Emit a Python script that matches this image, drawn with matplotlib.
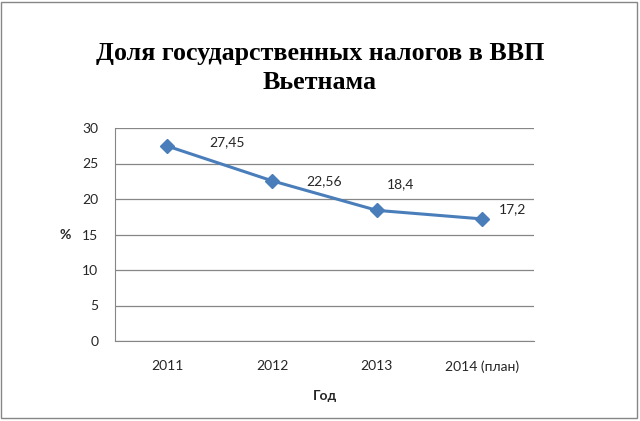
import matplotlib.pyplot as plt
from matplotlib.patches import Rectangle

# data
years = ['2011', '2012', '2013', '2014 (план)']
share = [27.45, 22.56, 18.4, 17.2]
labels = ['27,45', '22,56', '18,4', '17,2']
# label offsets in pixels (placed by hand in the original)
label_offsets = [(42, 4), (34, 0), (10, 26), (17, 10)]

plt.rcParams['font.family'] = ['Lato', 'DejaVu Sans']

fig = plt.figure(figsize=(6.4, 4.21), dpi=100)
ax = fig.add_axes([115 / 640, 1 - 341 / 421, 419 / 640, 213 / 421])

x = range(len(years))
ax.plot(x, share, color='#4A7EBB', lw=2.2, marker='D', ms=7,
        markerfacecolor='#4A7EBB', markeredgecolor='#4A7EBB', zorder=3)
for i, (v, t, off) in enumerate(zip(share, labels, label_offsets)):
    ax.annotate(t, (i, v), xytext=off, textcoords='offset pixels',
                ha='left', va='center', fontsize=10, color='#262626')

ax.set_xlim(-0.5, 3.5)
ax.set_ylim(0, 30)
ax.set_yticks(range(0, 31, 5))
ax.set_xticks(list(x))
ax.set_xticklabels(years)
ax.yaxis.grid(True, color='#868686', lw=0.9)
ax.set_axisbelow(True)
ax.tick_params(length=0, labelsize=10, colors='#262626', pad=12)
ax.tick_params(axis='x', pad=14)
for s in ['top', 'right']:
    ax.spines[s].set_visible(False)
for s in ['left', 'bottom']:
    ax.spines[s].set_color('#868686')

ax.set_ylabel('%', rotation=0, fontsize=10, fontweight='bold', color='#262626')
ax.yaxis.set_label_coords(-0.12, 0.47)
ax.set_xlabel('Год', fontsize=10, fontweight='bold', color='#262626')
ax.xaxis.set_label_coords(0.5, -0.23)

fig.text(0.5, 1 - 68 / 421, 'Доля государственных налогов в ВВП\nВьетнама',
         ha='center', va='center', fontsize=18.7, fontweight='bold',
         family='Liberation Serif', linespacing=1.35)

fig.patches.append(Rectangle((1 / 640, 3 / 421), 636 / 640, 416 / 421,
                             transform=fig.transFigure, fill=False,
                             edgecolor='#868686', lw=1))

fig.savefig('out.png', dpi=100)
